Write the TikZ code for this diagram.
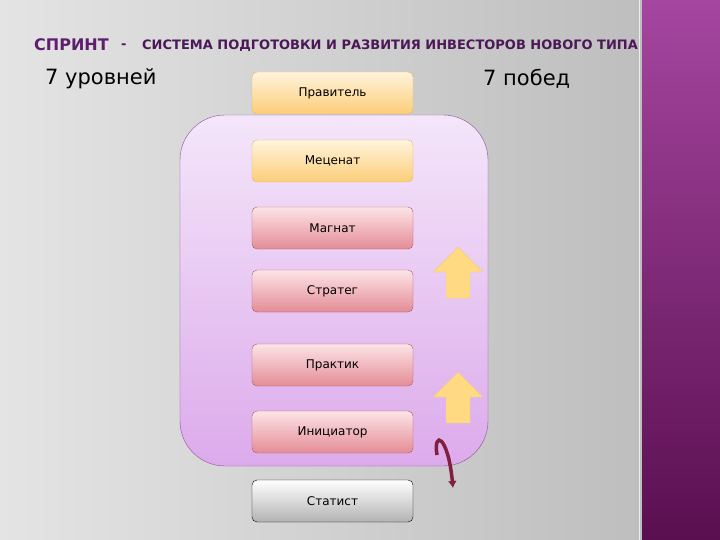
\documentclass[tikz,border=0pt]{standalone}
\usepackage{fontspec}
\setmainfont{DejaVu Sans}
\usetikzlibrary{arrows.meta}
\definecolor{bgL}{RGB}{228,228,228}
\definecolor{bgR}{RGB}{190,190,190}
\definecolor{stT}{RGB}{165,70,160}
\definecolor{stB}{RGB}{90,15,80}
\definecolor{ttlc}{RGB}{95,30,110}
\definecolor{lavT}{RGB}{244,230,250}
\definecolor{lavB}{RGB}{220,170,235}
\definecolor{lavD}{RGB}{140,80,150}
\definecolor{orT}{RGB}{255,244,220}
\definecolor{orB}{RGB}{252,205,120}
\definecolor{orD}{RGB}{225,180,110}
\definecolor{pkT}{RGB}{252,228,230}
\definecolor{pkB}{RGB}{228,140,150}
\definecolor{pkD}{RGB}{170,90,100}
\definecolor{arr}{RGB}{255,218,130}
\definecolor{crv}{RGB}{130,30,65}
\begin{document}
\begin{tikzpicture}[x=1pt,y=-1pt,
  lvl/.style={rounded corners=5pt,minimum width=161pt,minimum height=42pt,font=\fontsize{12}{14}\selectfont,draw=#1},
  orng/.style={lvl=orD,top color=orT,bottom color=orB},
  pnk/.style={lvl=pkD,top color=pkT,bottom color=pkB},
  gry/.style={lvl=black,top color=white,bottom color=gray!60}]
\useasboundingbox (0,0) rectangle (720,540);
\shade[left color=bgL,right color=bgR] (0,0) rectangle (642,540);
\shade[top color=stT,bottom color=stB] (642,0) rectangle (720,540);
\draw[white!85!gray,line width=1pt] (639,0) -- (639,540);
\node[anchor=west,font=\bfseries\fontsize{16}{18}\selectfont,text=ttlc,inner sep=0] (ttl) at (34,45) {СПРИНТ};
\node[anchor=west,font=\bfseries\fontsize{13}{14}\selectfont,text=ttlc!80!black,inner sep=0] (dash) at (121,46) {-};
\node[anchor=west,font=\bfseries\fontsize{13}{14}\selectfont,text=ttlc!80!black,inner sep=0] (ttl2) at (142,46) {СИСТЕМА ПОДГОТОВКИ И РАЗВИТИЯ ИНВЕСТОРОВ НОВОГО ТИПА};
\node[anchor=west,font=\fontsize{21}{24}\selectfont,inner sep=0] (l) at (45,79) {7 уровней};
\node[anchor=west,font=\fontsize{21}{24}\selectfont,inner sep=0] (r) at (483,79) {7 побед};
\shade[top color=lavT,bottom color=lavB,rounded corners=45pt] (180,115) rectangle (488,466);
\draw[lavD,rounded corners=45pt] (180,115) rectangle (488,466);
\node[orng] (p1) at (332.5,93) {Правитель};
\node[orng] (p2) at (332.5,161) {Меценат};
\node[pnk] (p3) at (332.5,228) {Магнат};
\node[pnk] (p4) at (332.5,291) {Стратег};
\node[pnk] (p5) at (332.5,365) {Практик};
\node[pnk] (p6) at (332.5,432) {Инициатор};
\node[gry] (p7) at (332.5,501) {Статист};
\foreach \y in {247,372}{
  \fill[arr,draw=orD!70] (458,\y) -- (483,\y+25) -- (470,\y+25) -- (470,\y+51) -- (446,\y+51) -- (446,\y+25) -- (433,\y+25) -- cycle;
}
\coordinate (c1) at (437,455);
\coordinate (c2) at (453,488);
\draw[line width=3.5pt,crv,-{Latex[length=7pt,width=9pt]}] (c1) .. controls (433,430) and (448,435) .. (c2);
\end{tikzpicture}
\end{document}
